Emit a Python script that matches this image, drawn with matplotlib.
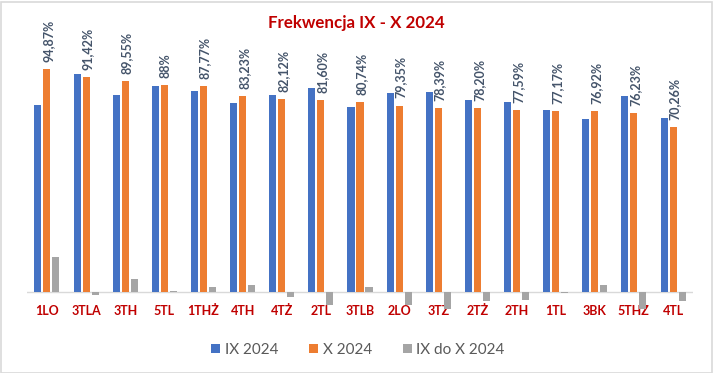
import numpy as np
import matplotlib.pyplot as plt
from matplotlib.patches import Rectangle

plt.rcParams['font.family'] = ['Lato', 'DejaVu Sans']

klasy = ['1LO', '3TLA', '3TH', '5TL', '1THŻ', '4TH', '4TŻ', '2TL', '3TLB',
         '2LO', '3TŻ', '2TŻ', '2TH', '1TL', '3BK', '5THŻ', '4TL']
ix_2024 = [79.6, 92.7, 83.8, 87.6, 85.5, 80.3, 84.0, 87.0, 78.6,
           84.7, 85.3, 81.7, 80.8, 77.4, 73.7, 83.2, 74.0]
x_2024 = [94.87, 91.42, 89.55, 88.00, 87.77, 83.23, 82.12, 81.60, 80.74,
          79.35, 78.39, 78.20, 77.59, 77.17, 76.92, 76.23, 70.26]
ix_do_x = [15.2, -1.3, 5.7, 0.4, 2.3, 3.0, -1.9, -5.4, 2.2,
           -5.4, -6.9, -3.5, -3.2, -0.3, 3.2, -6.9, -3.7]
etykiety = ['94,87%', '91,42%', '89,55%', '88%', '87,77%', '83,23%', '82,12%',
            '81,60%', '80,74%', '79,35%', '78,39%', '78,20%', '77,59%',
            '77,17%', '76,92%', '76,23%', '70,26%']

blue = '#4472C4'
orange = '#ED7D31'
gray = '#A5A5A5'
red = '#C00000'

W, H = 713, 373
fig = plt.figure(figsize=(W / 100, H / 100), dpi=100)
fig.patch.set_facecolor('white')
fig.patches.append(Rectangle((0.5 / W, 0.5 / H), 1 - 2 / W, 1 - 2 / H,
                             transform=fig.transFigure, fill=False,
                             edgecolor='#D9D9D9', linewidth=1.2))

# axes placed in pixel terms of the reference
ax = fig.add_axes([27.4 / W, 1 - 312 / H, (692.6 - 27.4) / W, (312 - 60) / H])
px = 2.354  # pixels per percent
ax.set_ylim((292.3 - 312) / px, (292.3 - 60) / px)
ax.set_xlim(-0.5, len(klasy) - 0.5)

x = np.arange(len(klasy))
w = 0.18
step = 0.23
ax.bar(x - step, ix_2024, w, color=blue, label='IX 2024', zorder=2)
ax.bar(x, x_2024, w, color=orange, label='X 2024', zorder=2)
ax.bar(x + step, ix_do_x, w, color=gray, label='IX do X 2024', zorder=2)
ax.axhline(0, color='#D9D9D9', linewidth=1, zorder=1)

for xi, v, t in zip(x, x_2024, etykiety):
    ax.text(xi + 0.04, v + 3, t, rotation=90, ha='center', va='bottom',
            fontsize=9, fontweight='bold', color='#44546A')

ax.set_xticks(x)
ax.set_xticklabels(klasy, fontsize=9, fontweight='bold', color=red)
ax.tick_params(axis='x', length=0, pad=-5)
ax.set_yticks([])
for s in ax.spines.values():
    s.set_visible(False)
ax.patch.set_alpha(0)

fig.text(0.5, 1 - 23 / H, 'Frekwencja IX - X 2024', ha='center', va='center',
         fontsize=12.2, fontweight='bold', color=red)

fig.legend(loc='center', bbox_to_anchor=(358 / W, 1 - 350 / H), ncol=3,
           frameon=False, fontsize=11, handlelength=0.6, handleheight=0.6,
           handletextpad=0.3, columnspacing=2.0, labelcolor='#595959')

fig.savefig('out.png', dpi=100)
